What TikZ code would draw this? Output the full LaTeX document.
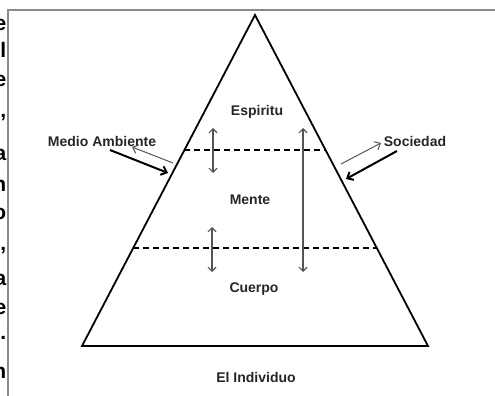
\documentclass[tikz,border=0pt]{standalone}
\usepackage{fontspec}
\setmainfont{Liberation Sans}
\usetikzlibrary{arrows.meta}
\definecolor{framegray}{HTML}{8A8A8A}
\definecolor{arrowgray}{HTML}{555555}
\begin{document}
\begin{tikzpicture}[x=1pt,y=-1pt,
  lbl/.style={font=\fontsize{14}{16}\selectfont\bfseries, text=black!85, inner sep=0pt},
  cut/.style={font=\fontsize{21}{24}\selectfont\bfseries, text=black, inner sep=0pt},
  edge/.style={line width=1.8pt, line join=miter},
  level/.style={line width=1.6pt, dash pattern=on 6pt off 4pt},
  flow/.style={line width=1.1pt, arrowgray, {Straight Barb[length=4pt,width=8pt]}-{Straight Barb[length=4pt,width=8pt]}},
  inflow/.style={line width=2pt, -{Straight Barb[length=5pt,width=9pt,line width=2pt]}},
  outflow/.style={line width=1pt, arrowgray, -{Straight Barb[length=5pt,width=9pt]}}]
\useasboundingbox (0,0) rectangle (495,396);

% right ends of the neighbouring text column, cut by the page edge
\begin{scope}
  \clip (0,0) rectangle (7,396);
  \foreach \ch/\yy in {e/31,l/57,e/86,{,}/117,a/160,n/191,o/219,{,}/250,a/285,e/314,./339,n/378}
    \node[cut, anchor=base east] (frag) at (6.5,\yy) {\ch};
\end{scope}

% frame
\draw[framegray, line width=2pt] (8,396) -- (8,10) -- (495,10);

% pyramid
\coordinate (apex) at (255,15);
\coordinate (bl) at (82,346);
\coordinate (br) at (428,346);
\draw[edge] (apex) -- (br) -- (bl) -- cycle;

% level boundaries
\coordinate (l1a) at (184,150);
\coordinate (l1b) at (326,150);
\coordinate (l2a) at (133,248);
\coordinate (l2b) at (377,248);
\draw[level] (l1a) -- (l1b);
\draw[level] (l2a) -- (l2b);

% level labels
\node[lbl] (esp) at (257,112) {Espiritu};
\node[lbl] (men) at (250,200) {Mente};
\node[lbl] (cue) at (254,289) {Cuerpo};
\node[lbl] (ind) at (256,377) {El Individuo};
\node[lbl] (med) at (102,141) {Medio Ambiente};
\node[lbl] (soc) at (415,141) {Sociedad};

% exchanges between levels
\coordinate (u1) at (213,128);
\coordinate (d1) at (213,173);
\coordinate (u2) at (212,227);
\coordinate (d2) at (212,272);
\coordinate (u3) at (303,128);
\coordinate (d3) at (303,272);
\draw[flow] (u1) -- (d1);
\draw[flow] (u2) -- (d2);
\draw[flow] (u3) -- (d3);

% exchanges with the surroundings
\coordinate (mi) at (110,150);
\coordinate (me) at (168,173);
\coordinate (mo) at (173,163);
\coordinate (mt) at (132,147);
\draw[inflow] (mi) -- (me);
\draw[outflow] (mo) -- (mt);
\coordinate (so) at (341,164);
\coordinate (st) at (381,143);
\coordinate (si) at (397,151);
\coordinate (se) at (346,179);
\draw[outflow] (so) -- (st);
\draw[inflow] (si) -- (se);
\end{tikzpicture}
\end{document}
